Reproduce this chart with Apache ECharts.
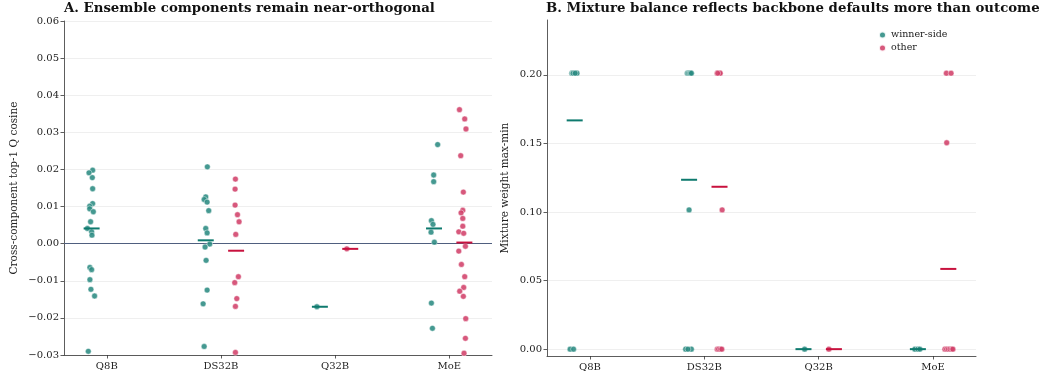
<!DOCTYPE html>
<html>
<head>
<meta charset="utf-8">
<script src="https://cdn.jsdelivr.net/npm/echarts@6/dist/echarts.min.js"></script>
<style>
  html, body { margin: 0; padding: 0; background: #ffffff; }
  #chart { width: 1043px; height: 378px; }
</style>
</head>
<body>
<div id="chart"></div>
<script>
// Backbone categories shared by both panels
const categories = ['Q8B', 'DS32B', 'Q32B', 'MoE'];

// Panel A: cross-component top-1 Q cosine, one list per backbone
const cosineWinner = [
  [0.0198, 0.0191, 0.0178, 0.0148, 0.0108, 0.0101, 0.0094, 0.0086, 0.0059, 0.0041, 0.0032, 0.0023,
   -0.0064, -0.0070, -0.0097, -0.0123, -0.0141, -0.0290],
  [0.0207, 0.0126, 0.0119, 0.0112, 0.0089, 0.0041, 0.0029, -0.0001, -0.0009, -0.0045, -0.0125, -0.0162, -0.0277],
  [-0.0170],
  [0.0267, 0.0185, 0.0167, 0.0062, 0.0052, 0.0031, 0.0004, -0.0160, -0.0228]
];
const cosineWinnerJitter = [
  [0.009, -0.023, 0.006, 0.009, 0.009, -0.017, -0.017, 0.015, -0.009, -0.037, 0.000, 0.003,
   -0.015, 0.000, -0.015, -0.006, 0.026, -0.029],
  [0.014, 0.000, -0.014, 0.012, 0.026, 0.000, 0.012, 0.035, -0.006, 0.003, 0.012, -0.023, -0.014],
  [-0.026],
  [0.032, -0.003, -0.003, -0.023, -0.009, -0.026, 0.003, -0.023, -0.014]
];
const cosineOther = [
  [],
  [0.0174, 0.0147, 0.0104, 0.0078, 0.0059, 0.0025, -0.0089, -0.0105, -0.0148, -0.0169, -0.0293],
  [-0.0014],
  [0.0361, 0.0336, 0.0309, 0.0237, 0.0139, 0.0090, 0.0083, 0.0068, 0.0047, 0.0032, 0.0028,
   -0.0007, -0.0020, -0.0056, -0.0089, -0.0118, -0.0128, -0.0142, -0.0202, -0.0255, -0.0295]
];
const cosineOtherJitter = [
  [],
  [-0.006, -0.009, -0.009, 0.012, 0.026, -0.003, 0.020, -0.012, 0.006, -0.006, -0.006],
  [-0.030],
  [-0.043, 0.003, 0.014, -0.032, -0.009, -0.014, -0.029, -0.014, -0.014, -0.049, -0.006,
   0.009, -0.049, -0.026, 0.003, -0.006, -0.041, -0.009, 0.012, 0.009, -0.003]
];
const cosineWinnerMean = [0.0041, 0.0009, -0.0170, 0.0041];
const cosineOtherMean = [null, -0.0019, -0.0014, 0.0003];

// Panel B: mixture weight max-min, one list per backbone
const weightWinner = [
  [0.2012, 0.2012, 0.2012, 0.2012, 0.2012, 0.2012, 0.2012, 0.2012, 0.2012, 0.2012, 0, 0],
  [0.2012, 0.2012, 0.2012, 0.2012, 0.2012, 0.1015, 0, 0, 0],
  [0],
  [0, 0, 0]
];
const weightWinnerJitter = [
  [-0.025, -0.018, -0.010, -0.004, 0.002, 0.008, 0.014, 0.020, -0.014, 0.004, -0.040, -0.010],
  [-0.015, -0.005, 0.005, 0.012, 0.020, 0.000, -0.030, 0.020, -0.010],
  [0.010],
  [-0.026, 0.000, 0.017]
];
const weightOther = [
  [],
  [0.2012, 0.2012, 0.2012, 0.2012, 0.2012, 0.2012, 0.1015, 0, 0, 0, 0],
  [0],
  [0.2012, 0.2012, 0.1505, 0, 0, 0, 0, 0, 0]
];
const weightOtherJitter = [
  [],
  [-0.020, -0.012, -0.005, 0.000, 0.006, -0.016, 0.023, -0.020, -0.008, 0.008, 0.020],
  [-0.044],
  [-0.017, 0.024, -0.014, -0.030, -0.015, 0.000, 0.015, 0.030, 0.040]
];
const weightWinnerMean = [0.1668, 0.1235, 0.0, 0.0];
const weightOtherMean = [null, 0.1184, 0.0, 0.0585];

// Y-axis tick values
const cosineTicks = [-0.03, -0.02, -0.01, 0.00, 0.01, 0.02, 0.03, 0.04, 0.05, 0.06];
const weightTicks = [0.00, 0.05, 0.10, 0.15, 0.20];

// ---- drawing ----
const FONT = 'DejaVu Serif';
const DODGE = 0.133;      // horizontal offset of each group from the category centre
const HALF = 0.07;        // half-width of the mean bar
const TEAL_DOT = '#2b8b82';
const RED_DOT = '#d2416a';
const TEAL_MEAN = '#0e7a6e';
const RED_MEAN = '#c8123e';
const AXIS_COLOR = '#333333';
const GRID_COLOR = '#ebebeb';

function points(values, jitter, side) {
  const out = [];
  values.forEach((list, k) => {
    list.forEach((v, i) => out.push([k + side * DODGE + jitter[k][i], v]));
  });
  return out;
}
function means(list, side) {
  const out = [];
  list.forEach((m, k) => { if (m !== null) out.push([k + side * DODGE, m]); });
  return out;
}
const fmt = v => v.toFixed(2).replace('-', '\u2212');

function xAxisFor(gi) {
  return {
    type: 'value', gridIndex: gi, min: -0.375, max: 3.375,
    axisLine: { show: true, onZero: false, lineStyle: { color: AXIS_COLOR, width: 0.8 } },
    axisTick: { show: true, customValues: [0, 1, 2, 3], length: 3.5, lineStyle: { color: AXIS_COLOR, width: 0.8 } },
    axisLabel: {
      customValues: [0, 1, 2, 3], formatter: v => categories[Math.round(v)],
      fontFamily: FONT, fontSize: 10, color: '#222', margin: 6
    },
    splitLine: { show: false }
  };
}
function yAxisFor(gi, min, max, ticks, name, extra) {
  return Object.assign({
    type: 'value', gridIndex: gi, min: min, max: max,
    name: name, nameLocation: 'middle', nameGap: 40,
    nameTextStyle: { fontFamily: FONT, fontSize: 10.5, color: '#222' },
    axisLine: { show: true, onZero: false, lineStyle: { color: AXIS_COLOR, width: 0.8 } },
    axisTick: { show: true, customValues: ticks, length: 3.5, lineStyle: { color: AXIS_COLOR, width: 0.8 } },
    axisLabel: { customValues: ticks, formatter: fmt, fontFamily: FONT, fontSize: 10, color: '#222', margin: 5 },
    splitLine: { show: true, lineStyle: { color: GRID_COLOR, width: 0.8 } }
  }, extra || {});
}
function scatter(name, gi, data, color, extra) {
  return Object.assign({
    name: name, type: 'scatter', xAxisIndex: gi, yAxisIndex: gi, data: data,
    symbolSize: 5.8, z: 3,
    itemStyle: { color: color, opacity: 0.88, borderColor: '#ffffff', borderWidth: 0.5 }
  }, extra || {});
}
function meanBars(gi, data, color) {
  return {
    type: 'custom', xAxisIndex: gi, yAxisIndex: gi, data: data, z: 4, clip: false,
    renderItem: (params, api) => {
      const x = api.value(0), y = api.value(1);
      const a = api.coord([x - HALF, y]);
      const b = api.coord([x + HALF, y]);
      return { type: 'line', shape: { x1: a[0], y1: a[1], x2: b[0], y2: b[1] },
               style: { stroke: color, lineWidth: 2 } };
    }
  };
}

const chart = echarts.init(document.getElementById('chart'), null, { renderer: 'canvas' });
chart.setOption({
  animation: false,
  backgroundColor: '#ffffff',
  title: [
    { text: 'A. Ensemble components remain near-orthogonal', left: 64, top: 2, padding: 0,
      textStyle: { fontFamily: FONT, fontWeight: 'bold', fontSize: 13.3, color: '#111' } },
    { text: 'B. Mixture balance reflects backbone defaults more than outcome', left: 546, top: 2, padding: 0,
      textStyle: { fontFamily: FONT, fontWeight: 'bold', fontSize: 13.3, color: '#111' } }
  ],
  legend: {
    data: ['winner-side', 'other'], orient: 'vertical', left: 878, top: 30, padding: 0,
    icon: 'circle', itemWidth: 7, itemHeight: 7, itemGap: 3,
    textStyle: { fontFamily: FONT, fontSize: 9.5, color: '#222' }
  },
  grid: [
    { left: 64, top: 21, width: 428, height: 334 },
    { left: 547, top: 20, width: 429, height: 336 }
  ],
  xAxis: [xAxisFor(0), xAxisFor(1)],
  yAxis: [
    yAxisFor(0, -0.03, 0.06, cosineTicks, 'Cross-component top-1 Q cosine', { interval: 0.01, nameGap: 44 }),
    yAxisFor(1, -0.005, 0.24, weightTicks, 'Mixture weight max-min', { nameGap: 36 })
  ],
  series: [
    scatter('winner-side', 0, points(cosineWinner, cosineWinnerJitter, -1), TEAL_DOT, {
      markLine: {
        silent: true, symbol: 'none', z: 2, label: { show: false },
        lineStyle: { color: '#4f5f7f', width: 1, type: 'solid' },
        data: [{ yAxis: 0 }]
      }
    }),
    scatter('other', 0, points(cosineOther, cosineOtherJitter, 1), RED_DOT),
    meanBars(0, means(cosineWinnerMean, -1), TEAL_MEAN),
    meanBars(0, means(cosineOtherMean, 1), RED_MEAN),
    scatter('winner-side', 1, points(weightWinner, weightWinnerJitter, -1), TEAL_DOT),
    scatter('other', 1, points(weightOther, weightOtherJitter, 1), RED_DOT),
    meanBars(1, means(weightWinnerMean, -1), TEAL_MEAN),
    meanBars(1, means(weightOtherMean, 1), RED_MEAN)
  ]
});
</script>
</body>
</html>
